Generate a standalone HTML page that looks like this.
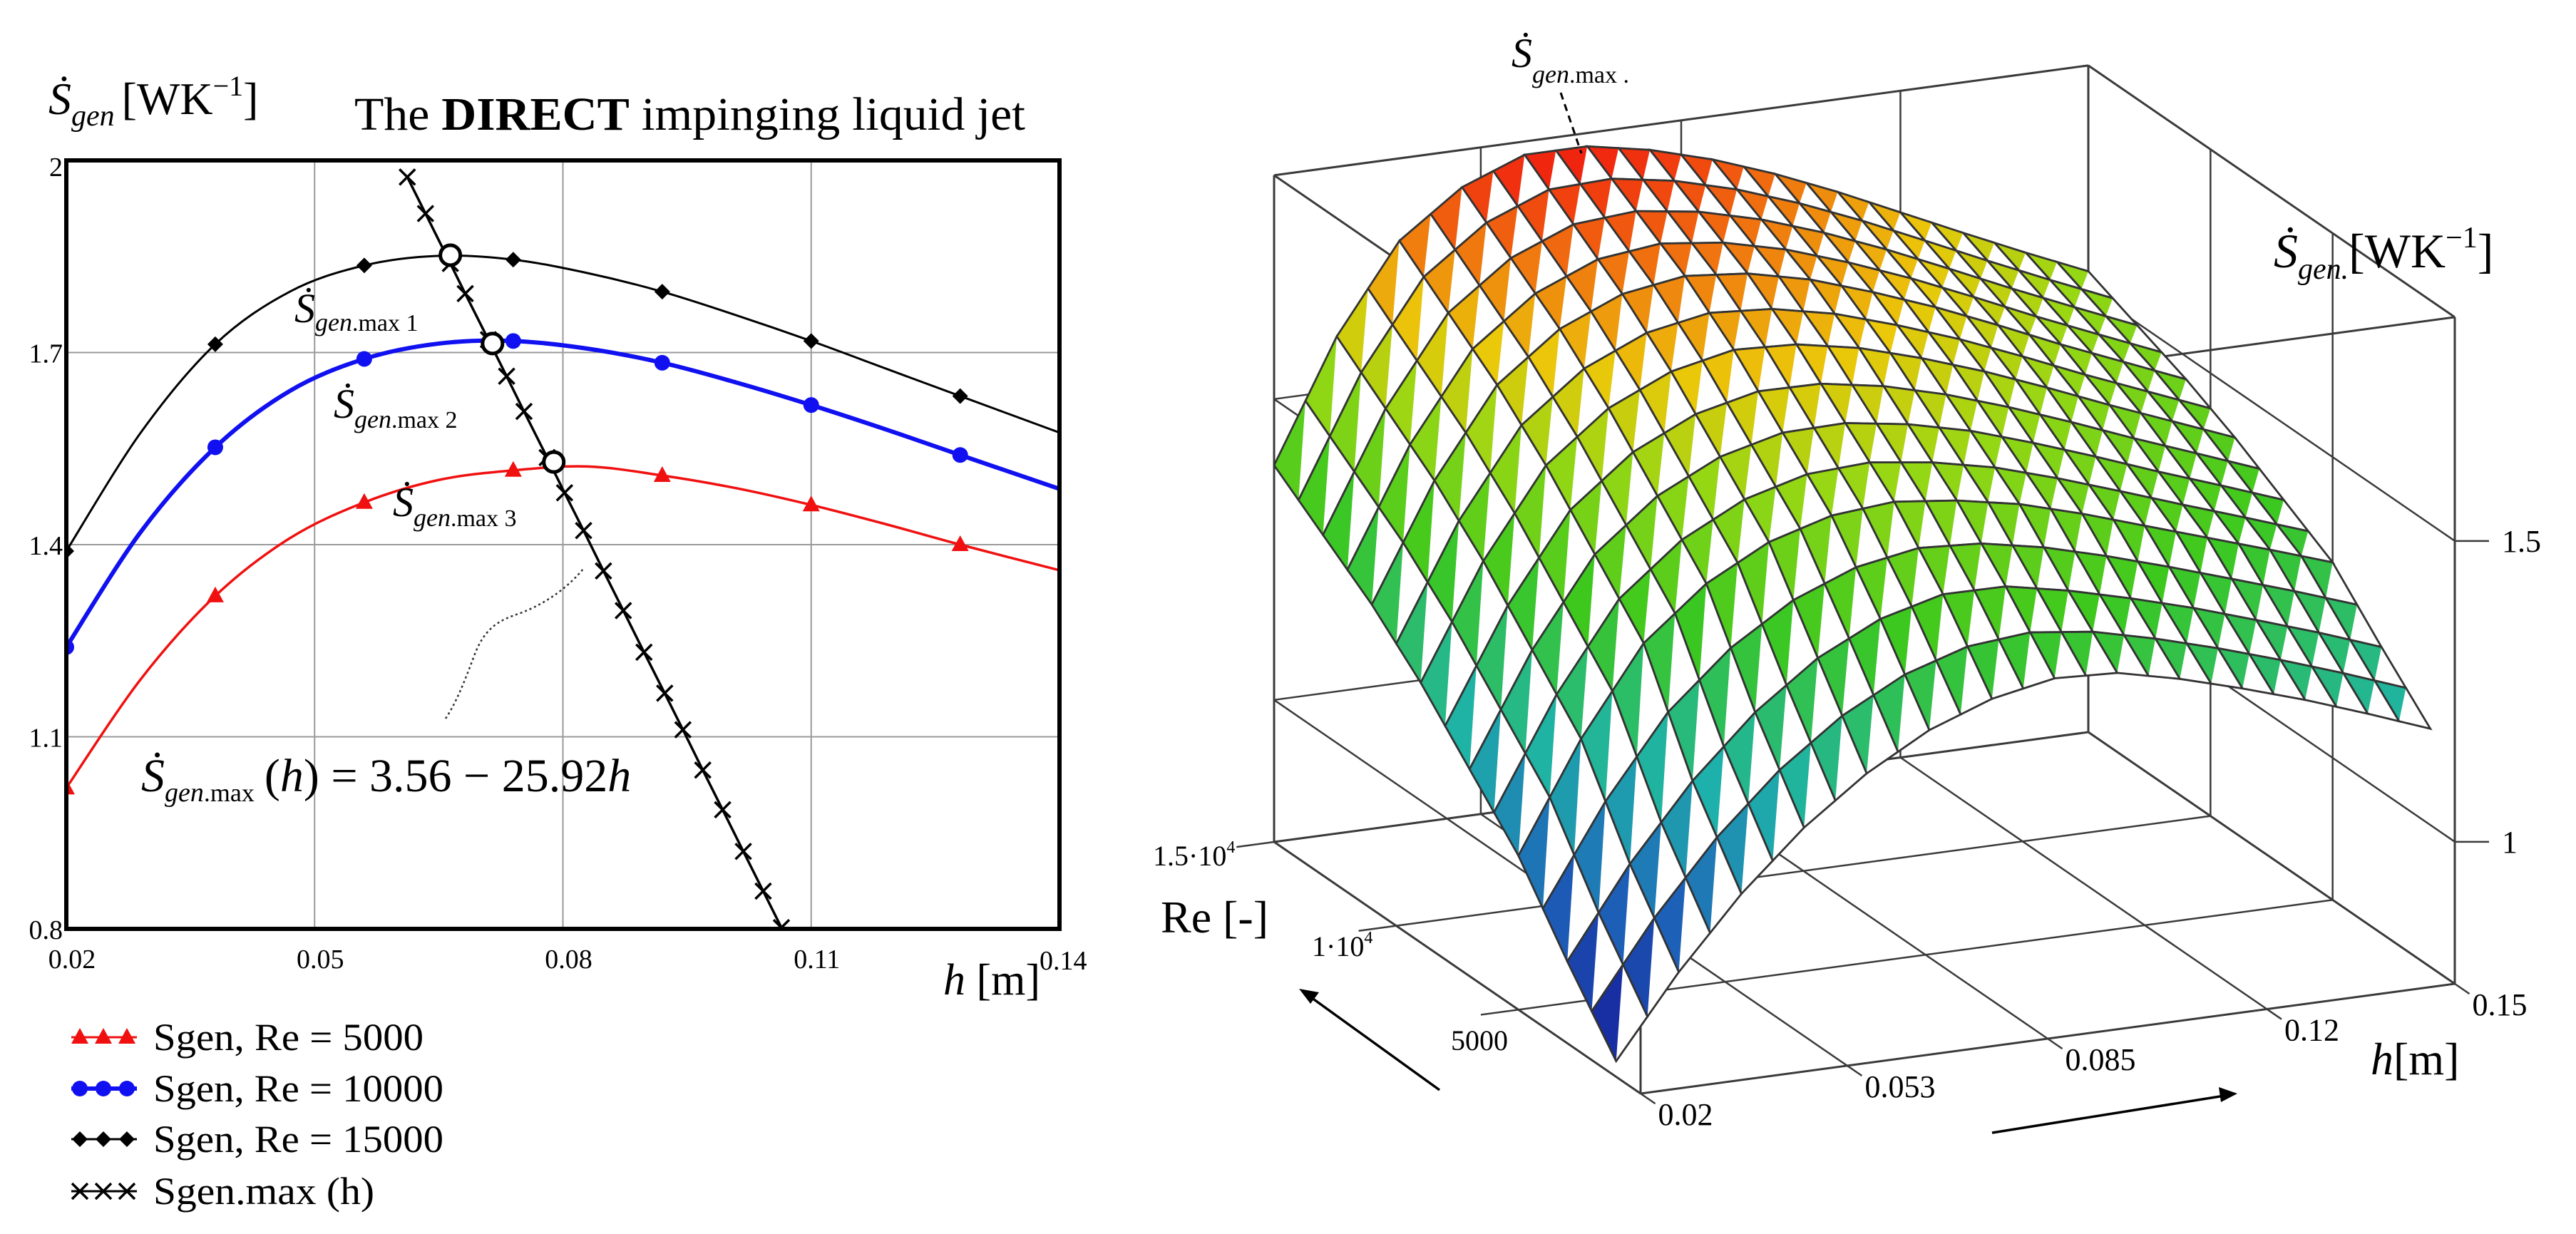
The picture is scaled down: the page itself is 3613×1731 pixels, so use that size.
<!DOCTYPE html>
<html><head><meta charset="utf-8"><style>
html,body{margin:0;padding:0;background:#fff}
svg{display:block}
text{font-family:"Liberation Serif","DejaVu Serif",serif;fill:#000}
</style></head><body>
<svg id="fig" xmlns="http://www.w3.org/2000/svg" width="3613" height="1731" viewBox="0 0 3613 1731">
<rect width="3613" height="1731" fill="#fff"/>
<g id="left"></g>
<g id="right"></g>
<!-- left texts -->
<text x="68" y="160" font-size="64" font-style="italic">Ṡ<tspan font-size="42" dy="16">gen</tspan><tspan font-style="normal" font-size="64" dy="-16" dx="10">[WK</tspan><tspan font-style="normal" font-size="40" dy="-26">−1</tspan><tspan font-style="normal" font-size="64" dy="26">]</tspan></text>
<text x="497" y="182" font-size="66" textLength="941" lengthAdjust="spacingAndGlyphs">The <tspan font-weight="bold">DIRECT</tspan> impinging liquid jet</text>
<text x="1323" y="1395" font-size="62"><tspan font-style="italic">h</tspan> [m]</text>
<text x="413" y="452" font-size="58" font-style="italic">Ṡ<tspan font-size="36" dy="12">gen</tspan><tspan font-size="34" font-style="normal">.max 1</tspan></text>
<text x="468" y="586" font-size="58" font-style="italic">Ṡ<tspan font-size="36" dy="14">gen</tspan><tspan font-size="34" font-style="normal">.max 2</tspan></text>
<text x="551" y="724" font-size="58" font-style="italic">Ṡ<tspan font-size="36" dy="14">gen</tspan><tspan font-size="34" font-style="normal">.max 3</tspan></text>
<text x="198" y="1110" font-size="66" font-style="italic">Ṡ<tspan font-size="38" dy="14">gen</tspan><tspan font-size="36" font-style="normal">.max</tspan><tspan font-style="normal" dy="-14" dx="14">(</tspan>h<tspan font-style="normal">) = 3.56 − 25.92</tspan>h</text>
<!-- right texts -->
<text x="2120" y="94" font-size="58" font-style="italic">Ṡ<tspan font-size="36" dy="22">gen</tspan><tspan font-size="34" font-style="normal">.max .</tspan></text>
<text x="3189" y="375" font-size="68" font-style="italic">Ṡ<tspan font-size="42" dy="16">gen.</tspan><tspan font-style="normal" dy="-16">[WK</tspan><tspan font-style="normal" font-size="42" dy="-28">−1</tspan><tspan font-style="normal" dy="28">]</tspan></text>
<text x="1628" y="1308" font-size="64">Re [-]</text>
<text x="3325" y="1507" font-size="64"><tspan font-style="italic">h</tspan>[m]</text>
</svg>
<script>
// ---------------- LEFT CHART DATA ----------------
const xTicks = [0.02, 0.05, 0.08, 0.11, 0.14];
const yTicks = [0.8, 1.1, 1.4, 1.7, 2];
const hCurve = [0.02,0.029,0.038,0.047,0.056,0.065,0.074,0.083,0.092,0.101,0.11,0.119,0.128,0.14];
const sgenRe15000 = [1.39,1.575,1.713,1.795,1.836,1.851,1.845,1.824,1.795,1.758,1.718,1.675,1.632,1.575];
const sgenRe10000 = [1.24,1.42,1.552,1.640,1.69,1.714,1.718,1.706,1.684,1.653,1.618,1.58,1.54,1.487];
const sgenRe5000 = [1.02,1.19,1.32,1.41,1.466,1.501,1.516,1.522,1.508,1.488,1.462,1.432,1.40,1.36];
const markerIdx = [0,2,4,6,8,10,12];
const maxLineH = [0.0612,0.0634,0.0664,0.0682,0.0710,0.0732,0.0753,0.0781,0.0802,0.0825,0.0849,0.0873,0.0898,0.0923,0.0945,0.0969,0.0993,0.1018,0.1042,0.1064];
const maxLineS = [1.974,1.917,1.839,1.792,1.720,1.663,1.608,1.536,1.481,1.422,1.359,1.297,1.232,1.168,1.111,1.048,0.986,0.921,0.859,0.802];
const optH = [0.0664, 0.0715, 0.0789];
const optS = [1.852, 1.714, 1.529];
const legendLabels = ["Sgen, Re = 5000","Sgen, Re = 10000","Sgen, Re = 15000","Sgen.max (h)"];

// ---------------- RIGHT CHART DATA ----------------
const hGrid = [0.02,0.03,0.04,0.05,0.06,0.07,0.08,0.09,0.10,0.11,0.12,0.13,0.14,0.15];
const reGrid = [1000,3000,5000,7000,9000,11000,13000,15000];
const zRe1000 = [0.79,0.924,1.04,1.136,1.212,1.27,1.308,1.328,1.323,1.299,1.269,1.236,1.199,1.16];
const zRe3000 = [0.90,1.048,1.172,1.272,1.348,1.399,1.426,1.425,1.404,1.377,1.347,1.313,1.278,1.24];
const zRe5000 = [1.02,1.20,1.345,1.43,1.485,1.515,1.524,1.512,1.492,1.462,1.428,1.394,1.36,1.325];
const zRe7000 = [1.108,1.292,1.437,1.52,1.571,1.597,1.599,1.583,1.558,1.524,1.487,1.448,1.411,1.373];
const zRe9000 = [1.196,1.384,1.529,1.61,1.657,1.679,1.674,1.654,1.623,1.587,1.546,1.503,1.462,1.421];
const zRe11000 = [1.27,1.462,1.607,1.686,1.73,1.746,1.736,1.712,1.677,1.638,1.594,1.548,1.505,1.462];
const zRe13000 = [1.33,1.526,1.671,1.748,1.79,1.798,1.783,1.756,1.72,1.678,1.632,1.585,1.54,1.496];
const zRe15000 = [1.39,1.59,1.735,1.81,1.85,1.85,1.83,1.80,1.762,1.718,1.67,1.622,1.575,1.53];
const hTicks3 = [0.02,0.053,0.085,0.12,0.15];
const hTickLabels3 = ["0.02","0.053","0.085","0.12","0.15"];
const reTicks3 = [5000,10000,15000];
const zTicks3 = [1,1.5];
const zTickLabels3 = ["1","1.5"];

const NS="http://www.w3.org/2000/svg";
function mk(parent, tag, attrs){const e=document.createElementNS(NS,tag);for(const k in attrs)e.setAttribute(k,attrs[k]);parent.appendChild(e);return e;}

// ---------- left chart ----------
const L=document.getElementById('left');
const PX0=93,PX1=1486,PY0=225,PY1=1303;
const xs=h=>PX0+(h-0.02)/0.12*(PX1-PX0);
const ys=v=>PY1-(v-0.8)/1.2*(PY1-PY0);
xTicks.forEach((t,i)=>{
  if(i>0&&i<xTicks.length-1){const g=mk(L,'line',{x1:xs(t),x2:xs(t),y1:PY0,y2:PY1,stroke:'#9a9a9a','stroke-width':2});
  
  }
  const last=i==xTicks.length-1;
  const tx=mk(L,'text',{x:last?1458:xs(t)+8,y:last?1360:1358,'font-size':38,'text-anchor':last?'start':'middle'});
  tx.textContent=t;
  
  
});
yTicks.forEach((t,i)=>{
  if(i>0&&i<yTicks.length-1){const g=mk(L,'line',{x1:PX0,x2:PX1,y1:ys(t),y2:ys(t),stroke:'#9a9a9a','stroke-width':2});
  
  }
  const tx=mk(L,'text',{x:88,y:ys(t)+(i==yTicks.length-1?22:14),'font-size':38,'text-anchor':'end'});
  tx.textContent=t;
  
  
});
function smooth(pts){let d='M'+pts[0][0]+','+pts[0][1];for(let i=0;i<pts.length-1;i++){const p0=pts[i-1]||pts[i],p1=pts[i],p2=pts[i+1],p3=pts[i+2]||p2;d+=' C'+(p1[0]+(p2[0]-p0[0])/6)+','+(p1[1]+(p2[1]-p0[1])/6)+' '+(p2[0]-(p3[0]-p1[0])/6)+','+(p2[1]-(p3[1]-p1[1])/6)+' '+p2[0]+','+p2[1];}return d;}
const dot=mk(L,'path',{d:'M625,1008 C640,985 650,960 665,920 C680,880 700,870 730,860 C770,845 800,820 818,798',fill:'none',stroke:'#333','stroke-width':2.5,'stroke-dasharray':'3,4'});


const clip=mk(L,'clipPath',{id:'pc'});mk(clip,'rect',{x:PX0,y:PY0,width:PX1-PX0,height:PY1-PY0});
function marker(g,type,x,y){
  if(type==='tri')return mk(g,'polygon',{points:`${x},${y-13} ${x-12},${y+9} ${x+12},${y+9}`,fill:'#f01010'});
  if(type==='circ')return mk(g,'circle',{cx:x,cy:y,r:11,fill:'#1010f0'});
  if(type==='dia')return mk(g,'polygon',{points:`${x},${y-11} ${x+11},${y} ${x},${y+11} ${x-11},${y}`,fill:'#000'});
  if(type==='x')return mk(g,'path',{d:`M${x-11},${y-11}L${x+11},${y+11}M${x+11},${y-11}L${x-11},${y+11}`,stroke:'#000','stroke-width':3.5});
}
const series=[[sgenRe5000,'#f01010',3.5,'tri','series-re-5000'],[sgenRe10000,'#1010f0',6,'circ','series-re-10000'],[sgenRe15000,'#000',3,'dia','series-re-15000']];
series.forEach(s=>{
  const g=mk(L,'g',{'clip-path':'url(#pc)'});
  
  
  const pts=hCurve.map((h,i)=>[xs(h),ys(s[0][i])]);
  mk(g,'path',{d:smooth(pts),fill:'none',stroke:s[1],'stroke-width':s[2]});
  markerIdx.forEach(i=>{const m=marker(g,s[3],xs(hCurve[i]),ys(s[0][i]));
    
    });
});
const gm=mk(L,'g',{'clip-path':'url(#pc)'});


mk(gm,'polyline',{points:maxLineH.map((h,i)=>xs(h)+','+ys(maxLineS[i])).join(' '),fill:'none',stroke:'#000','stroke-width':3.5});
maxLineH.forEach((h,i)=>{const m=marker(gm,'x',xs(h),ys(maxLineS[i]));
  
  });
optH.forEach((h,i)=>{const c=mk(L,'circle',{cx:xs(h),cy:ys(optS[i]),r:14,fill:'#fff',stroke:'#000','stroke-width':5});
  
  });
const frame=mk(L,'rect',{x:PX0,y:PY0,width:PX1-PX0,height:PY1-PY0,fill:'none',stroke:'#000','stroke-width':6});


const legY=[1455,1527,1598,1671];const legType=['tri','circ','dia','x'];const legCol=['#f01010','#1010f0','#000','#000'];
const legW=[379,407,407,310];
legendLabels.forEach((lab,i)=>{
  const g=mk(L,'g',{});
  
  
  mk(g,'line',{x1:100,x2:192,y1:legY[i],y2:legY[i],stroke:legCol[i],'stroke-width':i==1?6:3});
  [112,145,178].forEach(x=>marker(g,legType[i],x,legY[i]));
  const t=mk(g,'text',{x:215,y:legY[i]+18,'font-size':54,textLength:legW[i],lengthAdjust:'spacingAndGlyphs'});t.textContent=lab;
});

// ---------- right chart ----------
const R=document.getElementById('right');
const HMIN=0.02,HMAX=0.15,REMAX=15000,ZB=0.764,ZT=1.872;
const OX=2301,OY=1534,VHX=1142,VHY=-154,VRX=-514,VRY=-353,ZS=844;
function P3(h,re,z){const hf=(h-HMIN)/(HMAX-HMIN),rf=re/REMAX;
  return [OX+hf*VHX+rf*VRX, OY+hf*VHY+rf*VRY-(z-ZB)*ZS];}
function ln(g,a,b,w,c){return mk(g,'line',{x1:a[0],y1:a[1],x2:b[0],y2:b[1],stroke:c||'#3a3a3a','stroke-width':w||2.5});}
const box=mk(R,'g',{});


const C=P3;
[[HMIN,0],[HMAX,0],[HMIN,REMAX],[HMAX,REMAX]].forEach(([h,rr])=>{ln(box,C(h,rr,ZB),C(h,rr,ZT),3);});
[ZB,ZT].forEach(z=>{ln(box,C(HMIN,0,z),C(HMAX,0,z),3);ln(box,C(HMIN,REMAX,z),C(HMAX,REMAX,z),3);ln(box,C(HMIN,0,z),C(HMIN,REMAX,z),3);ln(box,C(HMAX,0,z),C(HMAX,REMAX,z),3);});
hTicks3.forEach(h=>{ln(box,C(h,0,ZB),C(h,REMAX,ZB),2.5);ln(box,C(h,REMAX,ZB),C(h,REMAX,ZT),2.5);});
reTicks3.forEach(r=>{ln(box,C(HMIN,r,ZB),C(HMAX,r,ZB),2.5);ln(box,C(HMAX,r,ZB),C(HMAX,r,ZT),2.5);});
zTicks3.forEach(z=>{ln(box,C(HMIN,REMAX,z),C(HMAX,REMAX,z),2.5);ln(box,C(HMAX,0,z),C(HMAX,REMAX,z),2.5);ln(box,C(HMIN,0,z),C(HMIN,REMAX,z),2.5);});
hTicks3.forEach((h,i)=>{const a=C(h,0,ZB),b=C(h,-600,ZB);ln(box,a,b,2.5);
  const t=mk(R,'text',{x:b[0]+4,y:b[1]+30,'font-size':44,fill:'#333'});t.textContent=hTickLabels3[i];
  
  });
const reLab=[["5000",2035,1473],["1·10",1840,1341],["1.5·10",1617,1214]];
reTicks3.forEach((r,i)=>{const a=C(HMIN,r,ZB),b=C(HMIN-0.006,r,ZB);ln(box,a,b,2.5);
  const t=mk(R,'text',{x:reLab[i][1],y:reLab[i][2],'font-size':40,fill:'#333'});t.textContent=reLab[i][0];
  if(i>0){const s=mk(t,'tspan',{'font-size':24,dy:-18});s.textContent='4';}
  
  });
zTicks3.forEach((z,i)=>{const a=C(HMAX,0,z);ln(box,a,[a[0]+48,a[1]],2.5);
  const t=mk(R,'text',{x:a[0]+66,y:a[1]+15,'font-size':44,fill:'#333'});t.textContent=zTickLabels3[i];
  
  });
const zRows=[zRe1000,zRe3000,zRe5000,zRe7000,zRe9000,zRe11000,zRe13000,zRe15000];
const stops=[[0,[20,20,150]],[0.2,[30,100,185]],[0.36,[30,178,170]],[0.55,[60,200,30]],[0.7,[150,215,20]],[0.8,[235,200,10]],[0.9,[240,115,15]],[1,[240,15,15]]];
function cmap(z){let t=(z-0.78)/(1.86-0.78);t=Math.max(0,Math.min(1,t));for(let i=1;i<stops.length;i++){if(t<=stops[i][0]){const a=stops[i-1],b=stops[i],f=(t-a[0])/(b[0]-a[0]);const c=a[1].map((v,k)=>Math.round(v+(b[1][k]-v)*f));return `rgb(${c})`;}}return 'rgb(240,15,15)';}
const SUB=2;const cells=[];
function zAt(i,j){return zRows[j][i];}
for(let j=0;j<reGrid.length-1;j++)for(let i=0;i<hGrid.length-1;i++)for(let sj=0;sj<SUB;sj++)for(let si=0;si<SUB;si++){
  const u0=si/SUB,u1=(si+1)/SUB,v0=sj/SUB,v1=(sj+1)/SUB;
  const q=(u,v)=>{const h=hGrid[i]+(hGrid[i+1]-hGrid[i])*u,r=reGrid[j]+(reGrid[j+1]-reGrid[j])*v;
    const z=(1-u)*(1-v)*zAt(i,j)+u*(1-v)*zAt(i+1,j)+(1-u)*v*zAt(i,j+1)+u*v*zAt(i+1,j+1);return {p:P3(h,r,z),z};};
  const a=q(u0,v0),b=q(u1,v0),c=q(u1,v1),d=q(u0,v1);
  const hf=(hGrid[i]+(u0+u1)/2*(hGrid[i+1]-hGrid[i])-HMIN)/(HMAX-HMIN);const rf=(reGrid[j]+(v0+v1)/2*(reGrid[j+1]-reGrid[j]))/REMAX;
  cells.push({a,b,c,d,depth:rf+hf*0.35});
}
cells.sort((m,n)=>n.depth-m.depth);
const surf=mk(R,'g',{});


cells.forEach(cl=>{
  const pts=[cl.a,cl.b,cl.c,cl.d].map(o=>o.p.join(',')).join(' ');
  mk(surf,'polygon',{points:pts,fill:'#fff',stroke:'none'});
  const zc=(cl.a.z+cl.b.z+cl.c.z+cl.d.z)/4;
  mk(surf,'polygon',{points:[cl.d,cl.c,cl.a].map(o=>o.p.join(',')).join(' '),fill:cmap(zc)});
  mk(surf,'polygon',{points:pts,fill:'none',stroke:'#333','stroke-width':2.8});
});
const ar=mk(R,'g',{});


mk(ar,'line',{x1:2019,y1:1529,x2:1836,y2:1397,stroke:'#000','stroke-width':3.5});
mk(ar,'polygon',{points:'1822,1387 1850,1392 1838,1408',fill:'#000'});
mk(ar,'line',{x1:2794,y1:1589,x2:3120,y2:1537,stroke:'#000','stroke-width':3.5});
mk(ar,'polygon',{points:'3138,1534 3112,1525 3115,1546',fill:'#000'});
const dp=mk(R,'line',{x1:2189,y1:130,x2:2218,y2:215,stroke:'#000','stroke-width':3,'stroke-dasharray':'10,7'});


</script>
</body></html>
